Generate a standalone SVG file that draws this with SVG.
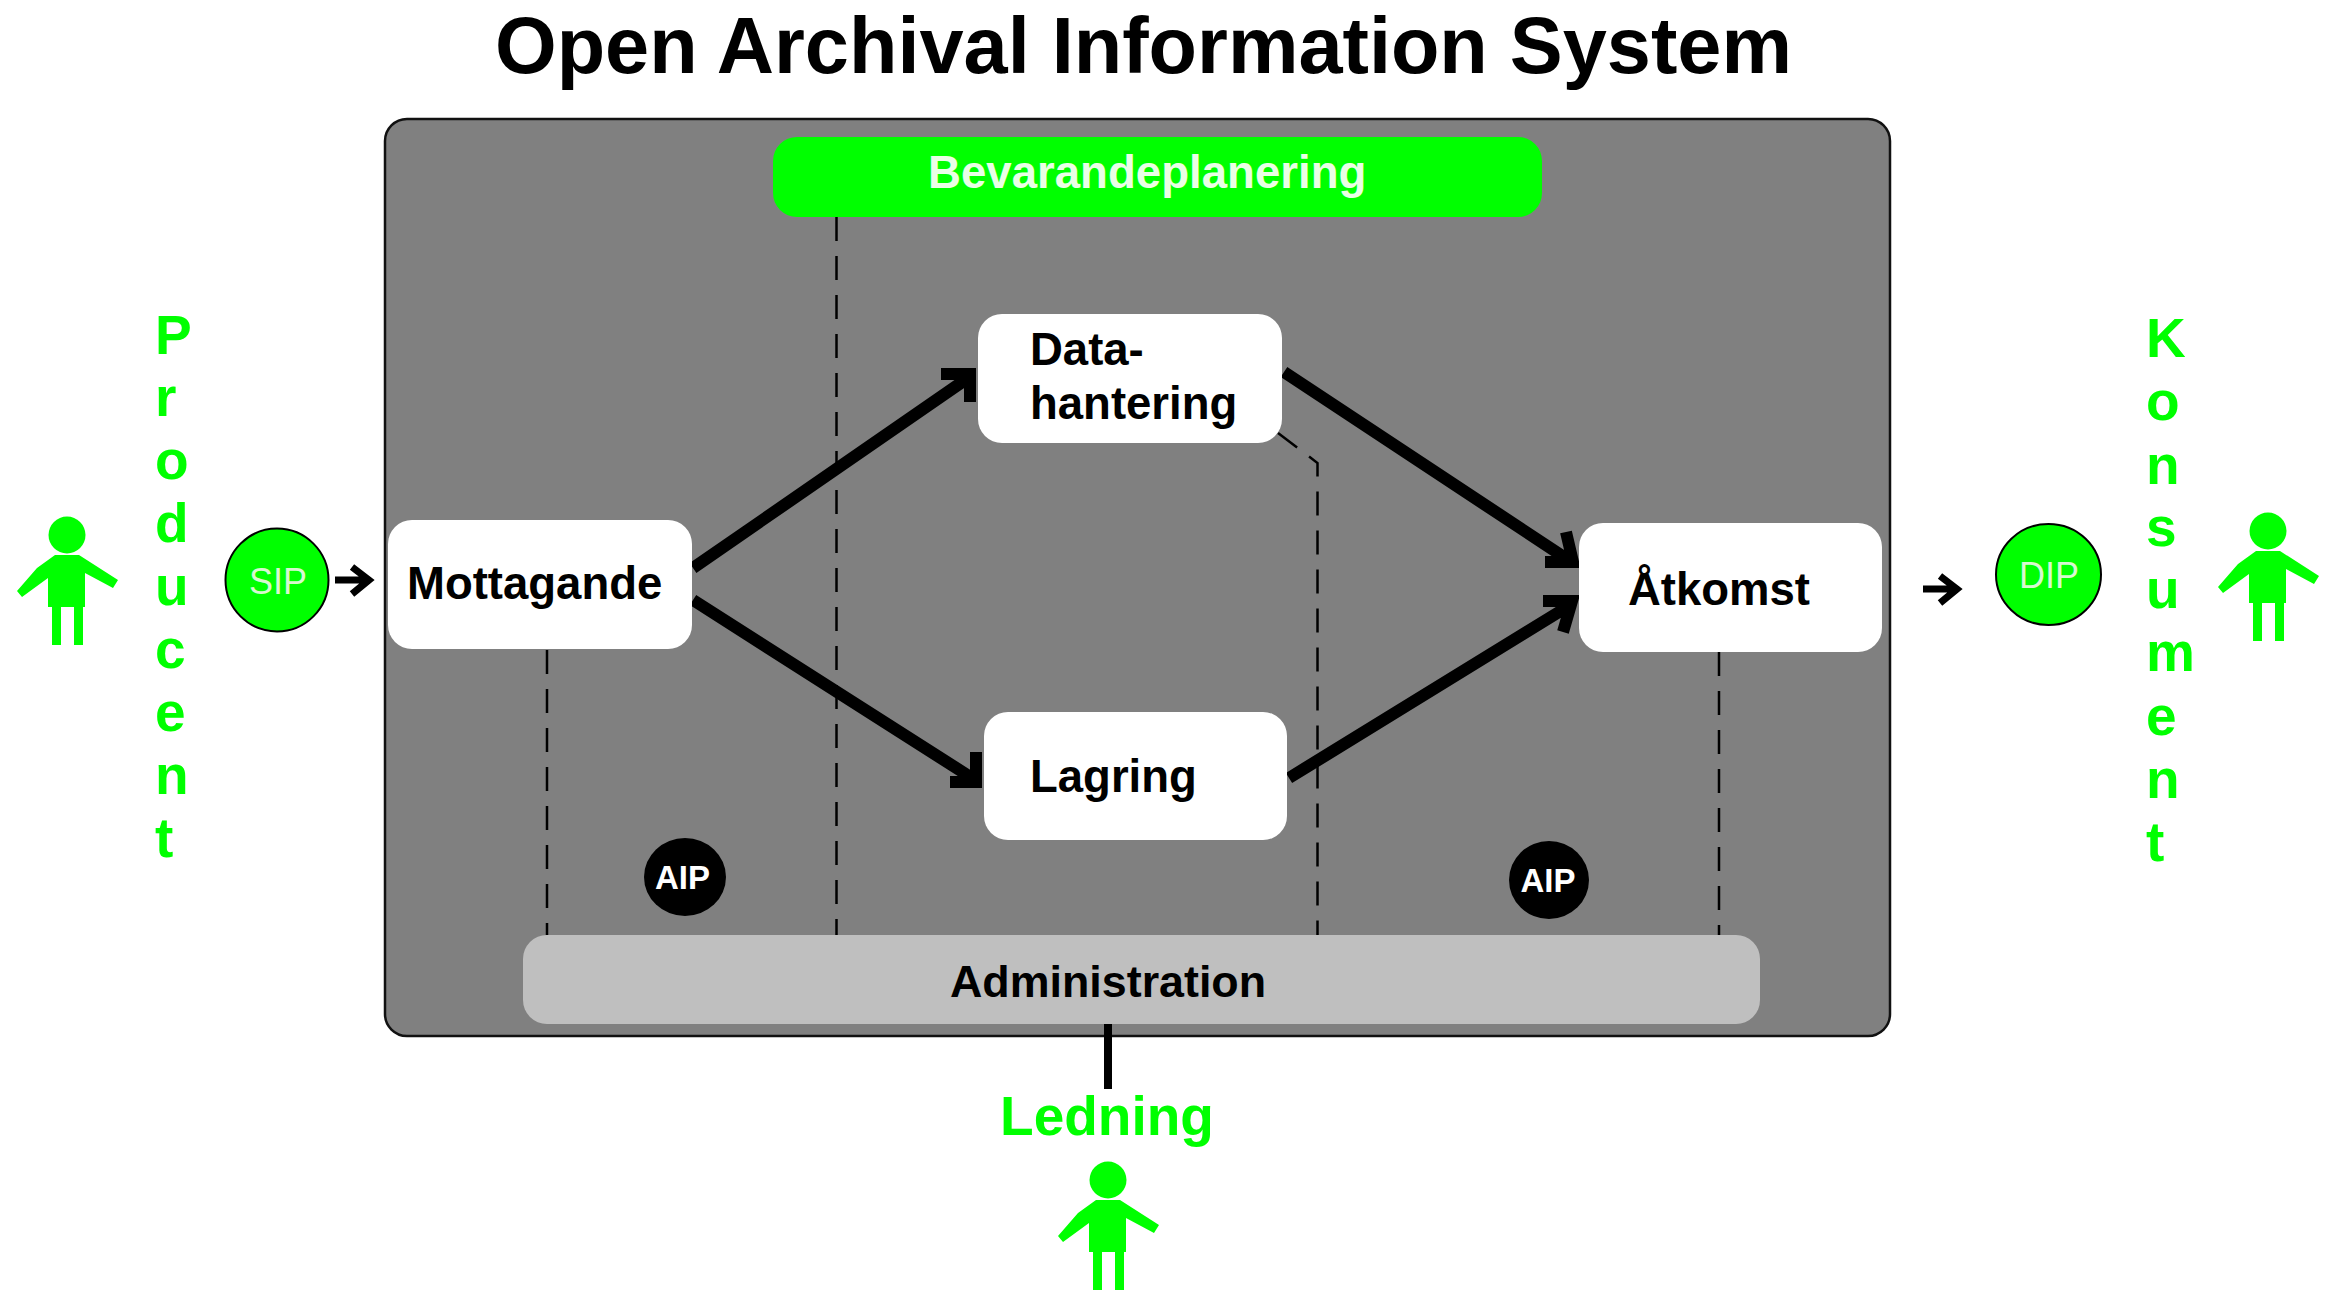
<svg xmlns="http://www.w3.org/2000/svg" width="2330" height="1290" viewBox="0 0 2330 1290">
<defs>
<g id="person"><circle cx="0" cy="-18" r="18.500"/><path d="M-12 2 H12 L51 27 L46 35 L18 20 V54 H16 V92 H7 V54 H-6 V92 H-15 V54 H-19 V25 L-45 44 L-50 38 L-30 15 Z"/></g>
</defs>
<style>
text{font-family:"Liberation Sans",Arial,sans-serif;font-weight:700}
.box{fill:#fff}
.lbl{font-size:45.500px;fill:#000}
.grn{fill:#00ff00}
.vert{font-size:55px;fill:#00ff00}
.dash{fill:none;stroke:#000;stroke-width:2.500;stroke-dasharray:24 15}
.thick{fill:none;stroke:#000;stroke-width:12}
.thin{fill:none;stroke:#000;stroke-width:7}
.disc{stroke:#000;stroke-width:2}
.sm{font-size:33px;text-anchor:middle}
.reg{font-size:36px;text-anchor:middle;font-weight:400;fill:#d8f8d0}
</style>
<rect width="2330" height="1290" fill="#fff"/>
<text id="title" x="495" y="73" font-size="79.300" fill="#000">Open Archival Information System</text>
<g id="oais"><rect x="385" y="119" width="1505" height="917" rx="22" fill="#808080" stroke="#111" stroke-width="2.500"/></g>
<g id="connectors">
<path class="dash" d="M547 650 V935"/>
<path class="dash" d="M836.500 217 V935"/>
<path class="dash" d="M1278 433 L1317.500 463 V935"/>
<path class="dash" d="M1719 652 V935"/>
<path class="thick" d="M693 568 L968 378 M941 374 H970 V402"/>
<path class="thick" d="M693 600 L972 778 M950 782 H976 V752"/>
<path class="thick" d="M1284 372 L1570 561 M1545 562 H1573 L1566 532"/>
<path class="thick" d="M1289 778 L1572 604 M1543 601 H1572 L1563 632"/>
<path class="thin" d="M335 580 H368 M352 567 L369 580 L352 594"/>
<path class="thin" d="M1923 589 H1956 M1940 576 L1957 589 L1940 603"/>
<path d="M1108 1022 V1089" fill="none" stroke="#000" stroke-width="8"/>
</g>
<g id="bevarandeplanering"><rect x="773" y="137" width="769" height="80" rx="24" class="grn"/><text x="928" y="188" font-size="45.600" fill="#eaffe6">Bevarandeplanering</text></g>
<g id="administration"><rect x="523" y="935" width="1237" height="89" rx="24" fill="#bfbfbf"/><text x="950" y="997" font-size="44.800" fill="#000">Administration</text></g>
<g id="mottagande"><rect x="388" y="520" width="304" height="129" rx="24" class="box"/><text x="407" y="599" class="lbl">Mottagande</text></g>
<g id="datahantering"><rect x="978" y="314" width="304" height="129" rx="24" class="box"/><text class="lbl"><tspan x="1030" y="365">Data-</tspan><tspan x="1030" y="419">hantering</tspan></text></g>
<g id="lagring"><rect x="984" y="712" width="303" height="128" rx="24" class="box"/><text x="1030" y="792" class="lbl">Lagring</text></g>
<g id="atkomst"><rect x="1579" y="523" width="303" height="129" rx="24" class="box"/><text x="1628" y="605" class="lbl">Åtkomst</text></g>
<g id="sip"><circle cx="277" cy="580" r="51.500" class="grn disc"/><text x="278" y="594" class="reg">SIP</text></g>
<g id="dip"><ellipse cx="2048.500" cy="574.500" rx="52.500" ry="50.500" class="grn disc"/><text x="2049" y="588" class="reg">DIP</text></g>
<g id="aip1"><ellipse cx="685" cy="877" rx="41" ry="39" fill="#000"/><text x="682.500" y="889" class="sm" fill="#fff">AIP</text></g>
<g id="aip2"><ellipse cx="1549" cy="880" rx="40" ry="39" fill="#000"/><text x="1548" y="892" class="sm" fill="#fff">AIP</text></g>
<g id="producent"><use href="#person" x="67" y="553" class="grn"/><text class="vert"><tspan x="155" y="354">P</tspan><tspan x="155" dy="62">r</tspan><tspan x="155" dy="63">o</tspan><tspan x="155" dy="63">d</tspan><tspan x="155" dy="63">u</tspan><tspan x="155" dy="63">c</tspan><tspan x="155" dy="63">e</tspan><tspan x="155" dy="63">n</tspan><tspan x="155" dy="63">t</tspan></text></g>
<g id="konsument"><use href="#person" x="2268" y="549" class="grn"/><text class="vert"><tspan x="2146" y="357">K</tspan><tspan x="2146" dy="63">o</tspan><tspan x="2146" dy="64">n</tspan><tspan x="2146" dy="62">s</tspan><tspan x="2146" dy="62">u</tspan><tspan x="2146" dy="63">m</tspan><tspan x="2146" dy="64">e</tspan><tspan x="2146" dy="63">n</tspan><tspan x="2146" dy="63">t</tspan></text></g>
<g id="ledning"><text x="1107" y="1135" font-size="55" text-anchor="middle" fill="#00ff00">Ledning</text><use href="#person" x="1108" y="1198" class="grn"/></g>
</svg>
